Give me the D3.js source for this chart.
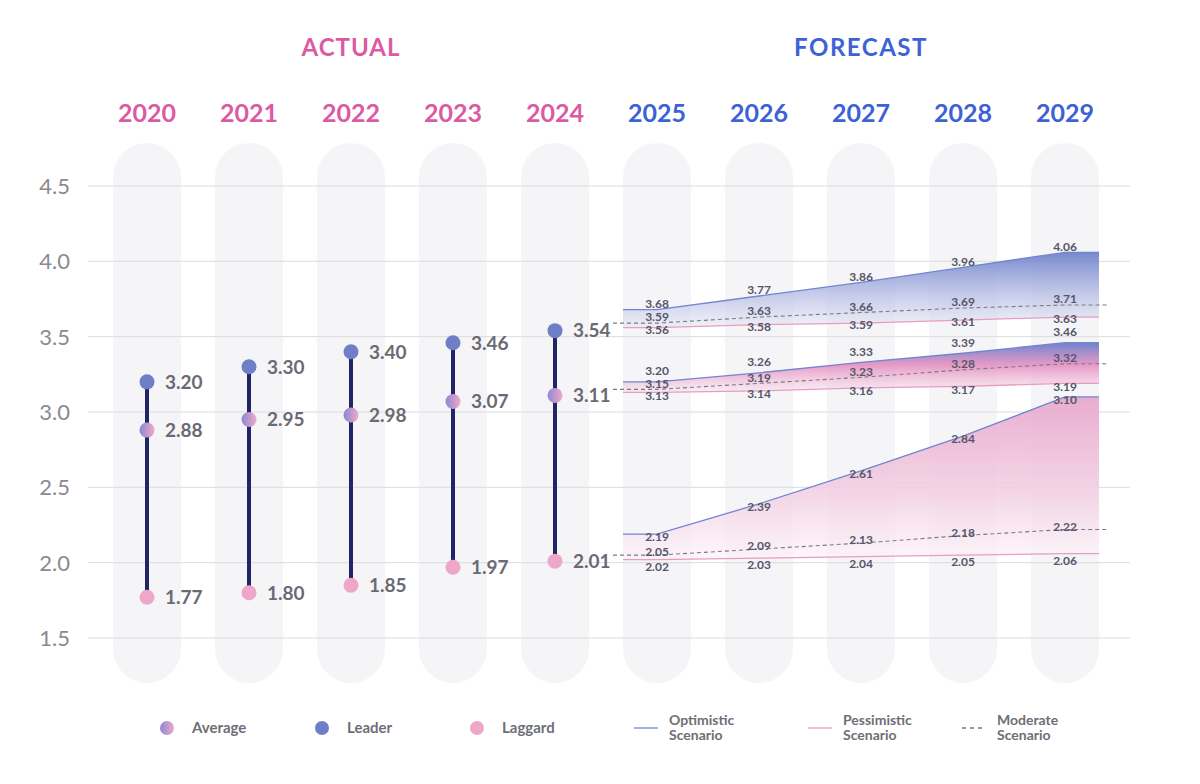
<!DOCTYPE html>
<html>
<head>
<meta charset="utf-8">
<script src="https://cdn.jsdelivr.net/npm/d3@7"></script>
<style>
  body { margin: 0; background: #fff; }
  svg { display: block; font-family: Lato, "Open Sans", sans-serif; }
</style>
</head>
<body>
<svg id="chart" width="1200" height="784"></svg>
<script>
// years
const actualYears = [2020, 2021, 2022, 2023, 2024];
const forecastYears = [2025, 2026, 2027, 2028, 2029];
const yTicks = [1.5, 2.0, 2.5, 3.0, 3.5, 4.0, 4.5];

// actual values
const leaderActual = [3.2, 3.3, 3.4, 3.46, 3.54];
const averageActual = [2.88, 2.95, 2.98, 3.07, 3.11];
const laggardActual = [1.77, 1.8, 1.85, 1.97, 2.01];

// forecast scenarios
const leaderOptimistic = [3.68, 3.77, 3.86, 3.96, 4.06];
const leaderModerate = [3.59, 3.63, 3.66, 3.69, 3.71];
const leaderPessimistic = [3.56, 3.58, 3.59, 3.61, 3.63];

const averageOptimistic = [3.2, 3.26, 3.33, 3.39, 3.46];
const averageModerate = [3.15, 3.19, 3.23, 3.28, 3.32];
const averagePessimistic = [3.13, 3.14, 3.16, 3.17, 3.19];

const laggardOptimistic = [2.19, 2.39, 2.61, 2.84, 3.1];
const laggardModerate = [2.05, 2.09, 2.13, 2.18, 2.22];
const laggardPessimistic = [2.02, 2.03, 2.04, 2.05, 2.06];

const legendDots = ["Average", "Leader", "Laggard"];
const legendLines = [
  ["Optimistic", "Scenario"],
  ["Pessimistic", "Scenario"],
  ["Moderate", "Scenario"],
];

var svg;
var x;
var y;
var pillWidth = 68;
var colors = {
  leader: "#6e7fc8",
  laggard: "#eea6c9",
  stem: "#1f2566",
  label: "#6a6a74",
  small: "#56566a",
  pink: "#dc5aa3",
  blue: "#3c62d6",
  optimistic: "#7285cf",
  pessimistic: "#e79cc2",
  moderate: "#7a7a84",
};

document.addEventListener("DOMContentLoaded", function () {
  svg = d3.select("#chart");

  x = d3
    .scalePoint()
    .domain(actualYears.concat(forecastYears))
    .range([147, 1065]);
  y = d3.scaleLinear().domain([1.5, 4.5]).range([638, 186]);

  drawDefs();
  drawPills();
  drawGrid();
  drawHeaders();
  drawActual();
  drawForecast();
  drawLegend();
});

drawDefs = () => {
  var defs = svg.append("defs");

  var avg = defs.append("linearGradient").attr("id", "avgDot");
  avg.append("stop").attr("offset", "0%").attr("stop-color", "#8c88d2");
  avg.append("stop").attr("offset", "100%").attr("stop-color", "#f1a8cb");

  const bands = {
    leaderFill: [
      ["0%", "#7083cd", 0.95],
      ["100%", "#e9e8f5", 0.6],
    ],
    averageFill: [
      ["0%", "#6a7ecc", 0.95],
      ["45%", "#e590c1", 0.9],
      ["100%", "#f8e4ef", 0.6],
    ],
    laggardFill: [
      ["0%", "#e8a9cd", 0.95],
      ["60%", "#f3cfe3", 0.85],
      ["100%", "#fdf3f8", 0.7],
    ],
  };
  for (let id of Object.keys(bands)) {
    let g = defs
      .append("linearGradient")
      .attr("id", id)
      .attr("x1", 0)
      .attr("y1", 0)
      .attr("x2", 0)
      .attr("y2", 1);
    for (let s of bands[id]) {
      g.append("stop")
        .attr("offset", s[0])
        .attr("stop-color", s[1])
        .attr("stop-opacity", s[2]);
    }
  }
};

drawPills = () => {
  svg
    .append("g")
    .attr("class", "pills")
    .selectAll("rect")
    .data(x.domain())
    .join("rect")
    .attr("x", (d) => x(d) - pillWidth / 2)
    .attr("y", y(4.5) - 43)
    .attr("width", pillWidth)
    .attr("height", y(1.5) - y(4.5) + 88)
    .attr("rx", pillWidth / 2)
    .attr("fill", "#f5f5f7");
};

drawGrid = () => {
  var g = svg.append("g").attr("class", "grid");
  g.selectAll("line")
    .data(yTicks)
    .join("line")
    .attr("x1", 88)
    .attr("x2", 1130)
    .attr("y1", (d) => y(d))
    .attr("y2", (d) => y(d))
    .attr("stroke", "#dcdcdf")
    .attr("stroke-width", 1);

  g.selectAll("text")
    .data(yTicks)
    .join("text")
    .attr("x", 70)
    .attr("y", (d) => y(d))
    .attr("dy", "0.36em")
    .attr("text-anchor", "end")
    .attr("font-size", 22)
    .attr("fill", "#8a8a90")
    .text((d) => d.toFixed(1));
};

drawHeaders = () => {
  var g = svg.append("g").attr("class", "headers");
  g.append("text")
    .attr("x", x(2022))
    .attr("y", 56)
    .attr("text-anchor", "middle")
    .attr("font-size", 24)
    .attr("font-weight", "bold")
    .attr("letter-spacing", 1)
    .attr("fill", colors.pink)
    .text("ACTUAL");
  g.append("text")
    .attr("x", x(2027))
    .attr("y", 56)
    .attr("text-anchor", "middle")
    .attr("font-size", 24)
    .attr("font-weight", "bold")
    .attr("letter-spacing", 1.5)
    .attr("fill", colors.blue)
    .text("FORECAST");

  g.selectAll(".year")
    .data(x.domain())
    .join("text")
    .attr("class", "year")
    .attr("x", (d) => x(d))
    .attr("y", 122)
    .attr("text-anchor", "middle")
    .attr("font-size", 25)
    .attr("font-weight", "bold")
    .attr("fill", (d) => (d < 2025 ? colors.pink : colors.blue))
    .text((d) => d);
};

drawActual = () => {
  let rows = actualYears.map((yr, i) => ({
    year: yr,
    leader: leaderActual[i],
    average: averageActual[i],
    laggard: laggardActual[i],
  }));
  var g = svg.append("g").attr("class", "actual");

  g.selectAll(".stem")
    .data(rows)
    .join("line")
    .attr("class", "stem")
    .attr("x1", (d) => x(d.year))
    .attr("x2", (d) => x(d.year))
    .attr("y1", (d) => y(d.leader))
    .attr("y2", (d) => y(d.laggard))
    .attr("stroke", colors.stem)
    .attr("stroke-width", 4);

  const kinds = [
    ["leader", colors.leader],
    ["laggard", colors.laggard],
    ["average", "url(#avgDot)"],
  ];
  for (let [key, fill] of kinds) {
    g.selectAll(".dot-" + key)
      .data(rows)
      .join("circle")
      .attr("class", "dot-" + key)
      .attr("cx", (d) => x(d.year))
      .attr("cy", (d) => y(d[key]))
      .attr("r", 7.5)
      .attr("fill", fill);

    g.selectAll(".lbl-" + key)
      .data(rows)
      .join("text")
      .attr("class", "lbl-" + key)
      .attr("x", (d) => x(d.year) + 18)
      .attr("y", (d) => y(d[key]))
      .attr("dy", "0.36em")
      .attr("font-size", 19)
      .attr("font-weight", "bold")
      .attr("fill", colors.label)
      .text((d) => d[key].toFixed(2));
  }
};

drawBand = (g, opt, mod, pes, fillId, offsets) => {
  let first = forecastYears[0];
  let last = forecastYears[forecastYears.length - 1];
  let pts = forecastYears.map((yr, i) => ({
    x: x(yr),
    opt: opt[i],
    mod: mod[i],
    pes: pes[i],
  }));
  pts.unshift({ ...pts[0], x: x(first) - pillWidth / 2 });
  pts.push({ ...pts[pts.length - 1], x: x(last) + pillWidth / 2 });

  let area = d3
    .area()
    .x((d) => d.x)
    .y0((d) => y(d.pes))
    .y1((d) => y(d.opt));
  g.append("path")
    .datum(pts)
    .attr("d", area)
    .attr("fill", `url(#${fillId})`);

  let line = (key) =>
    d3
      .line()
      .x((d) => d.x)
      .y((d) => y(d[key]));

  let modPts = pts.map((d) => ({ ...d }));
  modPts[0].x -= 10;
  modPts[modPts.length - 1].x += 10;

  g.append("path")
    .datum(modPts)
    .attr("d", line("mod"))
    .attr("fill", "none")
    .attr("stroke", colors.moderate)
    .attr("stroke-width", 1.1)
    .attr("stroke-dasharray", "4,3");
  g.append("path")
    .datum(pts)
    .attr("d", line("pes"))
    .attr("fill", "none")
    .attr("stroke", colors.pessimistic)
    .attr("stroke-width", 1.3);
  g.append("path")
    .datum(pts)
    .attr("d", line("opt"))
    .attr("fill", "none")
    .attr("stroke", colors.optimistic)
    .attr("stroke-width", 1.3);

  for (let key of ["opt", "mod", "pes"]) {
    g.selectAll(".lbl-" + key + fillId)
      .data(pts.slice(1, -1))
      .join("text")
      .attr("class", "lbl-" + key + fillId)
      .attr("x", (d) => d.x)
      .attr("y", (d) => y(d[key]) + offsets[key])
      .attr("dy", "0.36em")
      .attr("text-anchor", "middle")
      .attr("font-size", 12)
      .attr("font-weight", "bold")
      .attr("fill", colors.small)
      .text((d) => d[key].toFixed(2));
  }
};

drawForecast = () => {
  var g = svg.append("g").attr("class", "forecast");
  drawBand(g, laggardOptimistic, laggardModerate, laggardPessimistic, "laggardFill", { opt: 3, mod: -3, pes: 7 });
  drawBand(g, averageOptimistic, averageModerate, averagePessimistic, "averageFill", { opt: -11, mod: -6, pes: 3 });
  drawBand(g, leaderOptimistic, leaderModerate, leaderPessimistic, "leaderFill", { opt: -6, mod: -6, pes: 2 });
};

drawLegend = () => {
  var g = svg.append("g").attr("class", "legend");
  let ly = 728;
  let dotFills = ["url(#avgDot)", colors.leader, colors.laggard];
  let dotX = [167, 322, 477];

  legendDots.forEach((name, i) => {
    g.append("circle")
      .attr("cx", dotX[i])
      .attr("cy", ly)
      .attr("r", 7)
      .attr("fill", dotFills[i]);
    g.append("text")
      .attr("x", dotX[i] + 25)
      .attr("y", ly)
      .attr("dy", "0.36em")
      .attr("font-size", 15)
      .attr("font-weight", "bold")
      .attr("fill", "#6e6e76")
      .text(name);
  });

  let lineX = [634, 808, 962];
  let lineStyles = [
    [colors.optimistic, null],
    [colors.pessimistic, null],
    [colors.moderate, "4,4"],
  ];
  legendLines.forEach((words, i) => {
    g.append("line")
      .attr("x1", lineX[i])
      .attr("x2", lineX[i] + 24)
      .attr("y1", ly)
      .attr("y2", ly)
      .attr("stroke", lineStyles[i][0])
      .attr("stroke-width", 1.3)
      .attr("stroke-dasharray", lineStyles[i][1]);
    words.forEach((w, j) => {
      g.append("text")
        .attr("x", lineX[i] + 35)
        .attr("y", ly - 8 + j * 15)
        .attr("dy", "0.36em")
        .attr("font-size", 14)
        .attr("font-weight", "bold")
        .attr("fill", "#6e6e76")
        .text(w);
    });
  });
};
</script>
</body>
</html>
